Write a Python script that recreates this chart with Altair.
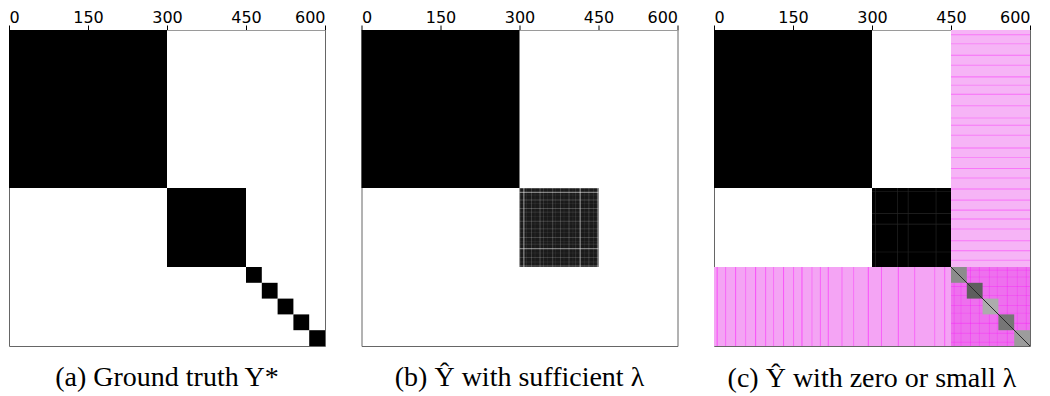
import altair as alt
import pandas as pd

# ---------------- data ----------------
ticks = [0, 150, 300, 450, 600]
captions = ["(a) Ground truth Y*", "(b) Ŷ with sufficient λ", "(c) Ŷ with zero or small λ"]

# (a) ground-truth cluster blocks on the diagonal
gt_starts = [0, 300, 450, 480, 510, 540, 570]
gt_ends = [300, 450, 480, 510, 540, 570, 600]

# (b) recovered matrix: one solid block, one textured block, rest zero
b_solid = [0, 300]
b_tex = [300, 450]
b_tex_color = "#1a1a1a"
b_stripe_pos = [300, 307, 313, 322, 329, 338, 345, 353, 362, 368, 377, 384, 393, 401, 406, 414, 423, 431, 440, 447]
b_stripe_w = [1.5, 2.5, 1, 1.5, 1, 2, 1.5, 1, 2, 1, 1.5, 1, 2, 1, 1.5, 2.5, 1, 1.5, 1, 2]
b_stripe_alpha = [0.3, 0.45, 0.12, 0.2, 0.1, 0.22, 0.14, 0.1, 0.18, 0.1, 0.2, 0.1, 0.18, 0.1, 0.15, 0.45, 0.1, 0.2, 0.14, 0.35]

# (c) recovered matrix with zero / small lambda
c_solid_starts = [0, 300]
c_solid_ends = [300, 450]
c_grid_pos = [306, 348, 368, 421]
c_noise_x0 = [450, 0, 450]
c_noise_x1 = [600, 450, 600]
c_noise_y0 = [0, 450, 450]
c_noise_y1 = [450, 600, 600]
c_noise_color = ["#f6b4f6", "#f4a4f4", "#ee70ee"]
c_col_streaks = [5, 21, 40, 59, 78, 97, 112, 131, 150, 166, 185, 201, 216, 242, 264, 292, 317, 349, 380, 418, 437]
c_col_alpha = [0.5, 0.35, 0.45, 0.3, 0.5, 0.4, 0.3, 0.45, 0.35, 0.5, 0.3, 0.4, 0.45, 0.35, 0.3, 0.5, 0.4, 0.45, 0.35, 0.3, 0.4]
c_row_streaks = [8, 25, 47, 66, 88, 104, 121, 143, 166, 180, 199, 223, 241, 262, 280, 301, 322, 341, 358, 377, 399, 418, 436]
c_row_alpha = [0.35, 0.25, 0.4, 0.3, 0.35, 0.25, 0.4, 0.3, 0.25, 0.35, 0.3, 0.4, 0.25, 0.35, 0.3, 0.4, 0.3, 0.35, 0.4, 0.3, 0.35, 0.4, 0.3]
c_br_streaks = [455, 468, 486, 503, 522, 537, 556, 575, 592]
c_br_alpha = [0.4, 0.3, 0.45, 0.35, 0.4, 0.3, 0.45, 0.35, 0.4]
c_diag_starts = [450, 480, 510, 540, 570]
c_diag_ends = [480, 510, 540, 570, 600]
c_diag_grays = ["#8c8c8c", "#5e5e5e", "#acacac", "#767676", "#9c9c9c"]
c_diag_line = [450, 600]


# ---------------- build rect tables ----------------
def rect(rows, x0, x1, y0, y1, color, op=1.0):
    rows.append({"x0": x0, "x1": x1, "y0": y0, "y1": y1, "color": color, "op": op})


rows_a = []
for s, e in zip(gt_starts, gt_ends):
    rect(rows_a, s, e, s, e, "#000000")

rows_b = []
rect(rows_b, b_solid[0], b_solid[1], b_solid[0], b_solid[1], "#000000")
rect(rows_b, b_tex[0], b_tex[1], b_tex[0], b_tex[1], b_tex_color)
for p, w, a in zip(b_stripe_pos, b_stripe_w, b_stripe_alpha):
    rect(rows_b, p, p + w, b_tex[0], b_tex[1], "#ffffff", a)
    rect(rows_b, b_tex[0], b_tex[1], p, p + w, "#ffffff", a)

rows_c = []
for s, e in zip(c_solid_starts, c_solid_ends):
    rect(rows_c, s, e, s, e, "#000000")
for p in c_grid_pos:
    rect(rows_c, p, p + 1.2, c_solid_starts[1], c_solid_ends[1], "#262626")
    rect(rows_c, c_solid_starts[1], c_solid_ends[1], p, p + 1.2, "#262626")
for x0, x1, y0, y1, col in zip(c_noise_x0, c_noise_x1, c_noise_y0, c_noise_y1, c_noise_color):
    rect(rows_c, x0, x1, y0, y1, col)
for p, a in zip(c_col_streaks, c_col_alpha):
    rect(rows_c, p, p + 2, 450, 600, "#ff00ff", a)
for p, a in zip(c_row_streaks, c_row_alpha):
    rect(rows_c, 450, 600, p, p + 2, "#ff00ff", a)
for p, a in zip(c_br_streaks, c_br_alpha):
    rect(rows_c, p, p + 2, 450, 600, "#ff00ff", a * 0.6)
    rect(rows_c, 450, 600, p, p + 2, "#ff00ff", a * 0.6)
for s, e, g in zip(c_diag_starts, c_diag_ends, c_diag_grays):
    rect(rows_c, s, e, s, e, g)

xs = alt.Scale(domain=[0, 600], nice=False, zero=False)
ys = alt.Scale(domain=[0, 600], nice=False, zero=False, reverse=True)
xaxis = alt.Axis(orient="top", values=ticks, title=None, grid=False)


def panel(rows, caption, with_diag=False):
    base = alt.Chart(pd.DataFrame(rows)).mark_rect(strokeWidth=0).encode(
        x=alt.X("x0:Q", scale=xs, axis=xaxis),
        x2="x1:Q",
        y=alt.Y("y0:Q", scale=ys, axis=None),
        y2="y1:Q",
        color=alt.Color("color:N", scale=None),
        opacity=alt.Opacity("op:Q", scale=None),
    )
    layers = [base]
    if with_diag:
        diag = alt.Chart(pd.DataFrame({"x0": [c_diag_line[0]], "x1": [c_diag_line[1]],
                                       "y0": [c_diag_line[0]], "y1": [c_diag_line[1]]})).mark_rule(
            color="#2a2a2a", strokeWidth=1).encode(
            x=alt.X("x0:Q", scale=xs, axis=xaxis), x2="x1:Q",
            y=alt.Y("y0:Q", scale=ys, axis=None), y2="y1:Q")
        layers.append(diag)
    return alt.layer(*layers).properties(
        width=316, height=316,
        title=alt.TitleParams(caption, orient="bottom", font="Liberation Serif", fontSize=28,
                              fontWeight="normal", color="#000000", offset=18, anchor="middle"),
    )


chart = alt.hconcat(
    panel(rows_a, captions[0]),
    panel(rows_b, captions[1]),
    panel(rows_c, captions[2], with_diag=True),
    spacing=34.5,
).properties(
    padding={"left": 0, "top": 0, "right": 0, "bottom": 0},
    background="white",
).configure_view(
    stroke="#666666", strokeWidth=1
).configure_axis(
    domainColor="#9a9a9a", tickColor="#000000", tickSize=5, labelFont="DejaVu Sans",
    labelFontSize=16, labelColor="#000000", labelPadding=0, domainWidth=1, tickWidth=1,
)

chart.save("out.html", embed_options={"renderer": "svg", "actions": False})
